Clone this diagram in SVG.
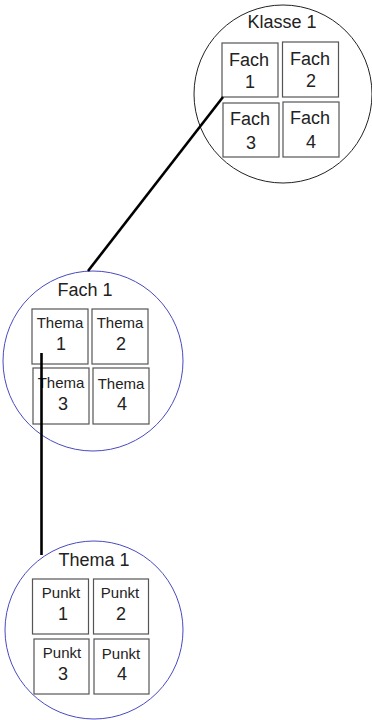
<svg xmlns="http://www.w3.org/2000/svg" width="372" height="720" viewBox="0 0 372 720">
<style>
.bg{fill:#fff}
.c1{fill:#fff;stroke:#222;stroke-width:1}
.c2{fill:#fff;stroke:#4a4ac0;stroke-width:1}
.box{fill:#fff;stroke:#555;stroke-width:1.2}
text{font-family:"Liberation Sans",Arial,sans-serif;fill:#222;text-anchor:middle}
.t{font-size:18px}
.b1{font-size:18px}
.b2{font-size:15px}
.b3{font-size:15px}
.n{font-size:18px}
.conn{stroke:#000;stroke-width:2.6;fill:none}
</style>
<rect class="bg" x="0" y="0" width="372" height="720"/>
<g id="klasse1">
<circle class="c1" cx="283" cy="94" r="89"/>
<text class="t" x="282" y="28">Klasse 1</text>
</g>
<g id="fach1box"><rect class="box" x="222" y="43" width="56" height="54"/><text class="b1" x="249" y="66">Fach</text><text class="n" x="250" y="88">1</text></g>
<g id="fach2box"><rect class="box" x="282.5" y="42" width="56" height="55"/><text class="b1" x="310" y="65">Fach</text><text class="n" x="311" y="87">2</text></g>
<g id="fach3box"><rect class="box" x="223" y="103" width="56" height="54"/><text class="b1" x="250" y="125">Fach</text><text class="n" x="251" y="149">3</text></g>
<g id="fach4box"><rect class="box" x="283" y="102" width="56" height="55"/><text class="b1" x="310" y="124">Fach</text><text class="n" x="311" y="148">4</text></g>

<g id="fach1">
<circle class="c2" cx="93" cy="361" r="90"/>
<text class="t" x="85" y="296">Fach 1</text>
</g>
<g id="thema1box"><rect class="box" x="32" y="309" width="56" height="55"/><text class="b2" x="60" y="328">Thema</text><text class="n" x="61" y="350">1</text></g>
<g id="thema2box"><rect class="box" x="92" y="309" width="56" height="55"/><text class="b2" x="120" y="328">Thema</text><text class="n" x="121" y="350">2</text></g>
<g id="thema3box"><rect class="box" x="33" y="368" width="56" height="56"/><text class="b2" x="61" y="388">Thema</text><text class="n" x="63" y="410">3</text></g>
<g id="thema4box"><rect class="box" x="93" y="368" width="56" height="56"/><text class="b2" x="121" y="389">Thema</text><text class="n" x="122" y="410">4</text></g>

<g id="thema1">
<circle class="c2" cx="94" cy="630" r="89"/>
<text class="t" x="94" y="566">Thema 1</text>
</g>
<g id="punkt1box"><rect class="box" x="32.5" y="579" width="56" height="55"/><text class="b3" x="61" y="598">Punkt</text><text class="n" x="63" y="620">1</text></g>
<g id="punkt2box"><rect class="box" x="93.5" y="579" width="55" height="55"/><text class="b3" x="120" y="598">Punkt</text><text class="n" x="121" y="620">2</text></g>
<g id="punkt3box"><rect class="box" x="34" y="639" width="55" height="55"/><text class="b3" x="62" y="658">Punkt</text><text class="n" x="63" y="680">3</text></g>
<g id="punkt4box"><rect class="box" x="94" y="639" width="55" height="55"/><text class="b3" x="121" y="659">Punkt</text><text class="n" x="122" y="680">4</text></g>

<g id="connectors">
<line class="conn" x1="223" y1="97" x2="88" y2="271"/>
<line class="conn" x1="41.5" y1="353" x2="41.5" y2="555"/>
</g>
</svg>
